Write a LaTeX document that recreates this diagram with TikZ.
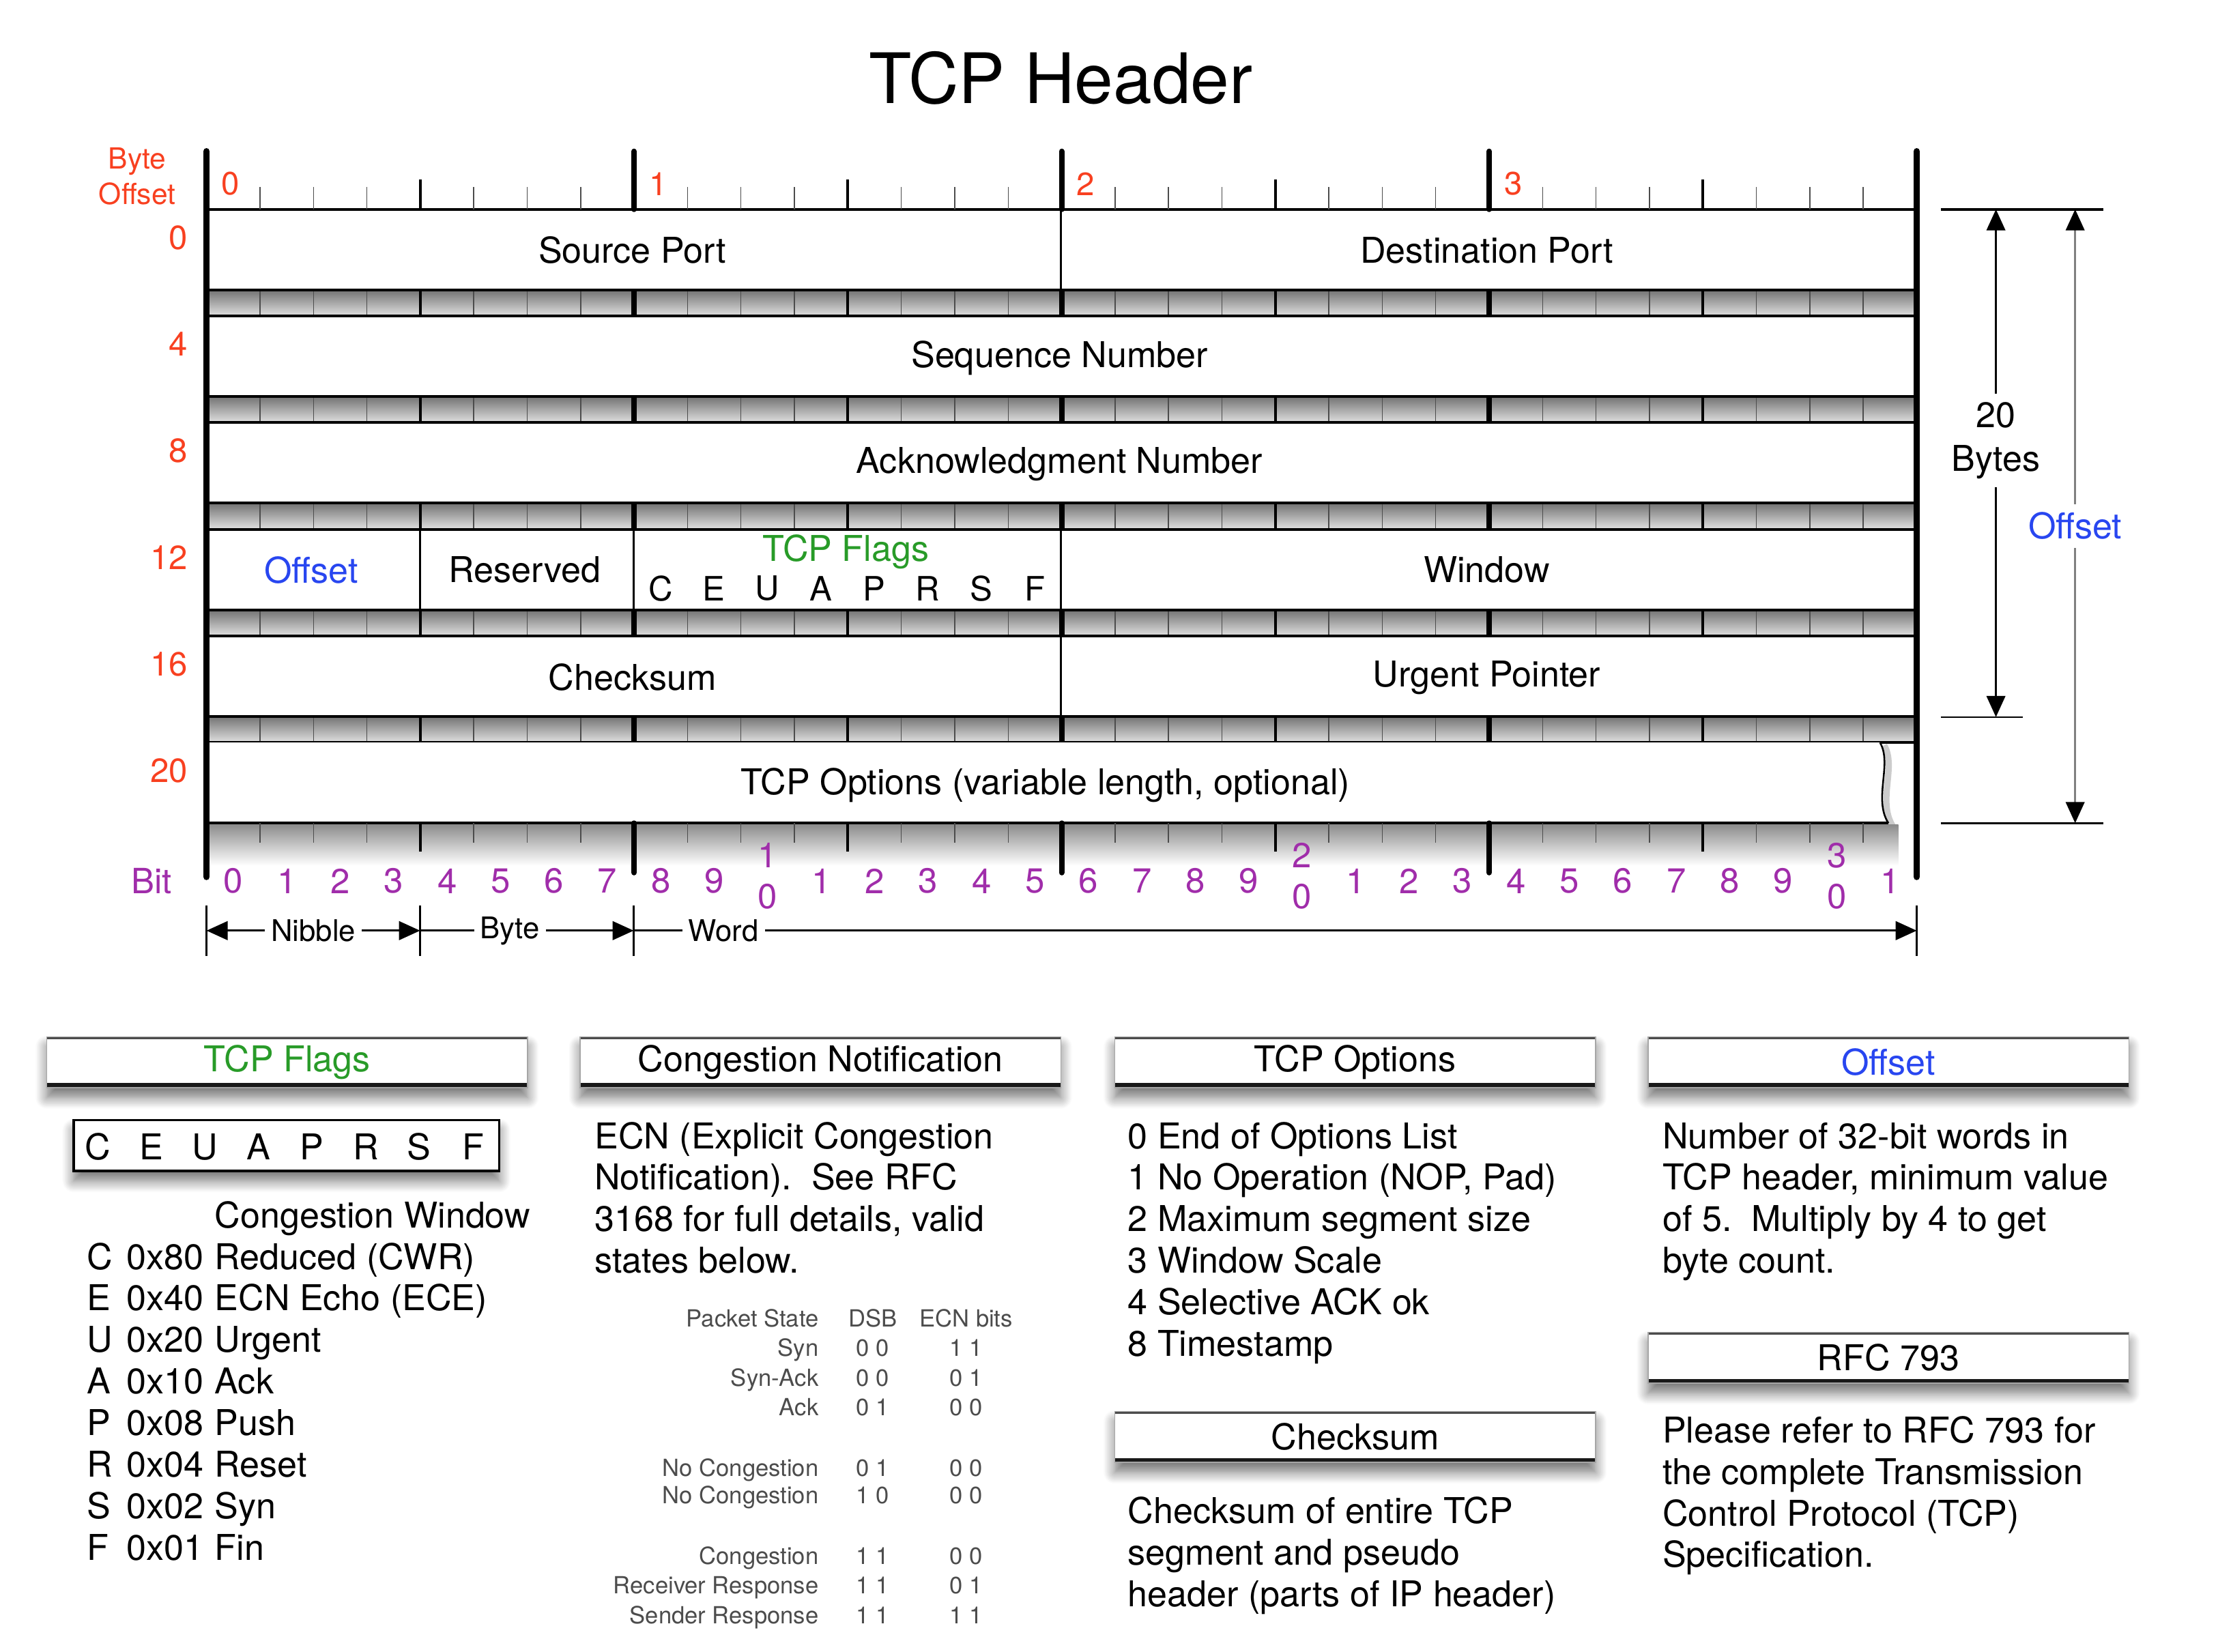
\documentclass[tikz,border=0pt]{standalone}
\usepackage{fontspec}
\setmainfont{TeX Gyre Heros}
\usetikzlibrary{arrows.meta, shadows, shadows.blur, positioning}
\definecolor{byteorange}{RGB}{248,64,32}
\definecolor{bitpurple}{RGB}{160,45,170}
\definecolor{flaggreen}{RGB}{40,155,40}
\definecolor{offsetblue}{RGB}{40,70,240}
\tikzset{
  titletext/.style={font=\fontsize{28}{34}\selectfont},
  fieldtext/.style={font=\fontsize{14.3}{17.6}\selectfont},
  flagletter/.style={font=\fontsize{13.5}{16}\selectfont},
  offsettext/.style={text=byteorange, font=\fontsize{11.7}{14.2}\selectfont, align=center},
  rownum/.style={text=byteorange, font=\fontsize{13.5}{16}\selectfont, anchor=east, inner sep=0pt},
  bytenum/.style={text=byteorange, font=\fontsize{13}{16}\selectfont},
  bitnum/.style={text=bitpurple, font=\fontsize{14}{16.5}\selectfont, align=center},
  unittext/.style={font=\fontsize{12}{14}\selectfont, fill=white, inner sep=2.5pt},
  bodytext/.style={font=\fontsize{14.3}{16.73}\selectfont, anchor=base west, inner sep=0pt},
  tabletext/.style={text=black!70, font=\fontsize{9.5}{11}\selectfont, inner sep=0pt},
  softshadow/.style={blur shadow={shadow xshift=0pt, shadow yshift=-4pt, shadow blur radius=4.5pt,
    shadow blur steps=10, shadow opacity=55}},
  infohead/.style={draw=black!35, line width=0.4pt, fill=white, minimum width=6.8cm, minimum height=0.72cm,
    font=\fontsize{14.3}{17}\selectfont, softshadow,
    path picture={\draw[line width=2pt, black!70] (path picture bounding box.north west) -- (path picture bounding box.north east);
      \draw[line width=3.6pt, black!90] (path picture bounding box.south west) -- (path picture bounding box.south east);}},
  keybox/.style={draw=black, line width=1pt, fill=white, minimum width=6.02cm, minimum height=0.72cm, softshadow},
  bitline/.style={black!70, line width=0.4pt},
  nibbleline/.style={black, line width=1.1pt},
  byteline/.style={black, line width=2.2pt},
  edgeline/.style={black, line width=2.6pt, line cap=round},
  rowline/.style={black, line width=1.1pt},
  divider/.style={black, line width=0.7pt},
  arrow/.style={line width=0.9pt, >={Triangle[length=8.5pt,width=7.5pt]}},
  grayarrow/.style={black!50, line width=0.9pt, >={Triangle[length=8.5pt,width=7.5pt,color=black]}}
}

\begin{document}
\begin{tikzpicture}[x=0.02cm, y=-0.02cm]
  \useasboundingbox (0,0) rectangle (1568,1168);

  \node (title) [titletext] at (750,55) {TCP Header};

  % byte offsets down the left
  \node (byteoff) [offsettext] at (97,124.5) {Byte\\Offset};
  \foreach \row/\lbl in {0/0,1/4,2/8,3/12,4/16,5/20}
    \node (rownum\row) [rownum] at (133,{168+75.4*\row}) {\lbl};

  % fields and grey separator bands
  \fill[white] (146,148) rectangle (1355,582);
  \foreach \row in {0,...,4} {
    \pgfmathsetmacro{\bt}{205+75.4*\row}
    \shade[top color=black!55, bottom color=black!12] (146,\bt) rectangle (1355,\bt+18.4);
    \foreach \i in {1,...,31} \draw[bitline] ({146+37.78*\i},\bt) -- ++(0,18.4);
    \foreach \i in {4,12,20,28} \draw[nibbleline] ({146+37.78*\i},\bt) -- ++(0,18.4);
    \foreach \i in {8,16,24} \draw[byteline] ({146+37.78*\i},\bt) -- ++(0,18.4);
    \draw[rowline] (146,\bt) -- (1355,\bt);
    \draw[rowline] (146,\bt+18.4) -- (1355,\bt+18.4);
  }

  % top ruler
  \draw[rowline] (146,148) -- (1355,148);
  \foreach \i in {1,...,31} \draw[bitline] ({146+37.78*\i},148) -- ++(0,-16);
  \foreach \i in {4,12,20,28} \draw[nibbleline] ({146+37.78*\i},148) -- ++(0,-21);
  \foreach \i in {8,16,24} \draw[byteline, line cap=round] ({146+37.78*\i},148) -- ++(0,-41);
  \foreach \b in {0,...,3}
    \node (bytelbl\b) [bytenum] at ({163+302.25*\b},130) {\b};

  % options row with torn right edge
  \draw[black!20, line width=2.5pt] (1332,527) .. controls (1341,542) and (1327,566) .. (1338,584);
  \fill[white] (146,525) -- (1329,525) .. controls (1338,540) and (1324,565) .. (1335,582) -- (146,582) -- cycle;
  \draw[divider] (1329,525) .. controls (1338,540) and (1324,565) .. (1335,582);
  \draw[rowline] (146,582) -- (1335,582);

  % bottom ruler
  \shade[top color=black!45, bottom color=white] (146,583) rectangle (1342,612);
  \foreach \i in {1,...,31} \draw[bitline] ({146+37.78*\i},582) -- ++(0,14);
  \foreach \i in {4,12,20,28} \draw[nibbleline] ({146+37.78*\i},582) -- ++(0,20);
  \foreach \i in {8,16,24} \draw[byteline, line cap=round] ({146+37.78*\i},582) -- ++(0,35);

  % field dividers
  \draw[divider] (750,148) -- (750,205);
  \draw[divider] (297,374.2) -- (297,431.2);
  \draw[divider] (448,374.2) -- (448,431.2);
  \draw[divider] (750,374.2) -- (750,431.2);
  \draw[divider] (750,449.6) -- (750,506.6);

  \draw[edgeline] (146,107) -- (146,620);
  \draw[edgeline] (1355,107) -- (1355,620);

  % field names
  \node (srcport) [fieldtext] at (447,177) {Source Port};
  \node (dstport) [fieldtext] at (1051,177) {Destination Port};
  \node (seqnum) [fieldtext] at (749,253) {Sequence Number};
  \node (acknum) [fieldtext] at (749,328) {Acknowledgment Number};
  \node (dataoff) [fieldtext, text=offsetblue] at (220,403) {Offset};
  \node (reserved) [fieldtext] at (371,403) {Reserved};
  \node (flagname) [fieldtext, text=flaggreen] at (598,390) {TCP Flags};
  \foreach \f [count=\k from 0] in {C,E,U,A,P,R,S,F}
    \node (flagbit\k) [flagletter] at ({467+37.78*\k},416) {\f};
  \node (window) [fieldtext] at (1051,403) {Window};
  \node (checksum) [fieldtext] at (447,479) {Checksum};
  \node (urgent) [fieldtext] at (1051,479) {Urgent Pointer};
  \node (options) [fieldtext] at (739,555) {TCP Options (variable length, optional)};

  % bit numbers
  \node (bitword) [bitnum] at (107,623) {Bit};
  \foreach \i in {0,...,31} {
    \pgfmathtruncatemacro{\ones}{mod(\i,10)}
    \pgfmathtruncatemacro{\tens}{\i/10}
    \ifnum\i>9\relax
      \ifnum\ones=0\relax
        \node (bit\i) [bitnum] at ({165+37.78*\i},619.5) {\tens\\0};
      \else
        \node (bit\i) [bitnum] at ({165+37.78*\i},623) {\ones};
      \fi
    \else
      \node (bit\i) [bitnum] at ({165+37.78*\i},623) {\ones};
    \fi
  }

  % nibble / byte / word
  \foreach \x in {146,297,448,1355} \draw[divider] (\x,640) -- (\x,676);
  \coordinate (nibL) at (146,658);
  \coordinate (nibR) at (297,658);
  \coordinate (byteR) at (448,658);
  \coordinate (wordR) at (1355,658);
  \draw[arrow, <->] (nibL) -- node[unittext] (nibble) {Nibble} (nibR);
  \draw[arrow, ->] (nibR) -- node[unittext, pos=0.42] (byte) {Byte} (byteR);
  \draw[arrow, ->] (byteR) -- node[unittext, pos=0.07] (word) {Word} (wordR);

  % header length on the right
  \draw[rowline] (1372,148) -- (1487,148);
  \draw[divider] (1372,507) -- (1430,507);
  \draw[divider] (1372,582) -- (1487,582);
  \coordinate (bytestop) at (1411,148);
  \coordinate (bytesbot) at (1411,507);
  \coordinate (offtop) at (1467,148);
  \coordinate (offbot) at (1467,582);
  \draw[arrow, <->] (bytestop) -- node[fieldtext, fill=white, align=center, pos=0.455] (twentybytes) {20\\Bytes} (bytesbot);
  \draw[grayarrow, <->] (offtop) -- node[fieldtext, text=offsetblue, fill=white, pos=0.516] (offsetlen) {Offset} (offbot);

  % legend boxes
  \node (flaghead) [infohead, text=flaggreen] at (203,751) {TCP Flags};
  \node (ecnhead) [infohead] at (580,751) {Congestion Notification};
  \node (opthead) [infohead] at (958,751) {TCP Options};
  \node (offhead) [infohead, text=offsetblue] at (1335,751) {Offset};
  \node (rfchead) [infohead] at (1335,960) {RFC 793};
  \node (sumhead) [infohead] at (958,1016) {Checksum};

  \node (flagkeys) [keybox] at (202.5,810) {};
  \foreach \f [count=\k from 0] in {C,E,U,A,P,R,S,F}
    \node (flagkey\k) [fieldtext] at ({69+37.9*\k},811) {\f};

  \node (flaglist) [bodytext] at (61,868) {\begin{tabular}[t]{@{}p{16pt}@{}l@{\hspace{4.5pt}}l@{}}
    & & Congestion Window\\
    C & 0x80 & Reduced (CWR)\\
    E & 0x40 & ECN Echo (ECE)\\
    U & 0x20 & Urgent\\
    A & 0x10 & Ack\\
    P & 0x08 & Push\\
    R & 0x04 & Reset\\
    S & 0x02 & Syn\\
    F & 0x01 & Fin
  \end{tabular}};

  \node (ecntext) [bodytext] at (420,812) {\begin{tabular}[t]{@{}l@{}}
    ECN (Explicit Congestion\\
    Notification).\ \ See RFC\\
    3168 for full details, valid\\
    states below.
  \end{tabular}};

  \foreach \st/\dsb/\ecn/\yy [count=\k] in {Packet State/DSB/ECN bits/932, Syn/0 0/1 1/953,
      Syn-Ack/0 0/0 1/974, Ack/0 1/0 0/995, No Congestion/0 1/0 0/1038, No Congestion/1 0/0 0/1057,
      Congestion/1 1/0 0/1100, Receiver Response/1 1/0 1/1121, Sender Response/1 1/1 1/1142} {
    \node (pstate\k) [tabletext, anchor=base east] at (579,\yy+6) {\st};
    \node (dsb\k) [tabletext, anchor=base] at (617,\yy+6) {\dsb};
    \node (ecnbits\k) [tabletext, anchor=base] at (683,\yy+6) {\ecn};
  }

  \node (optlist) [bodytext] at (797,812) {\begin{tabular}[t]{@{}l@{}}
    0 End of Options List\\
    1 No Operation (NOP, Pad)\\
    2 Maximum segment size\\
    3 Window Scale\\
    4 Selective ACK ok\\
    8 Timestamp
  \end{tabular}};

  \node (sumtext) [bodytext] at (797,1077) {\begin{tabular}[t]{@{}l@{}}
    Checksum of entire TCP\\
    segment and pseudo\\
    header (parts of IP header)
  \end{tabular}};

  \node (offtext) [bodytext] at (1175,812) {\begin{tabular}[t]{@{}l@{}}
    Number of 32-bit words in\\
    TCP header, minimum value\\
    of 5.\ \ Multiply by 4 to get\\
    byte count.
  \end{tabular}};

  \node (rfctext) [bodytext] at (1175,1020) {\begin{tabular}[t]{@{}l@{}}
    Please refer to RFC 793 for\\
    the complete Transmission\\
    Control Protocol (TCP)\\
    Specification.
  \end{tabular}};
\end{tikzpicture}
\end{document}
